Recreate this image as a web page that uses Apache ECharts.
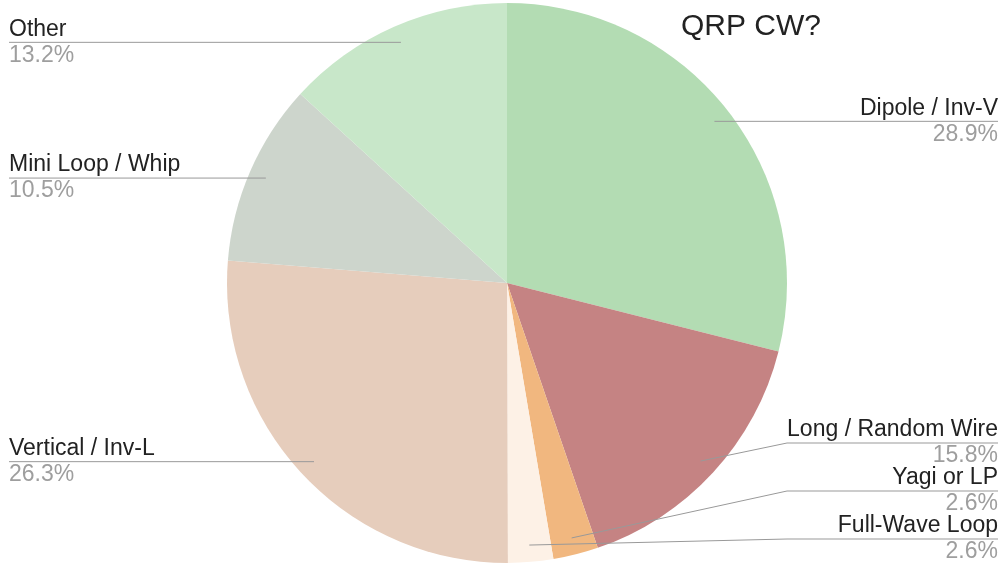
<!DOCTYPE html>
<html><head><meta charset="utf-8">
<script src="https://cdn.jsdelivr.net/npm/echarts@6/dist/echarts.min.js"></script>
<style>html,body{margin:0;padding:0;background:#fff}#c{width:1007px;height:565px}</style>
</head><body><div id="c"></div>
<script>
const categories = ['Dipole / Inv-V', 'Long / Random Wire', 'Yagi or LP', 'Full-Wave Loop', 'Vertical / Inv-L', 'Mini Loop / Whip', 'Other'];
const shares = [28.9, 15.8, 2.6, 2.6, 26.3, 10.5, 13.2];
const colors = ['#b3dcb3', '#c58383', '#f1b77f', '#fdf1e6', '#e6cdbc', '#cdd5cc', '#c8e7c9'];
const titleText = 'QRP CW?';

const W = 1007, H = 565;
const CX = 507, CY = 283, R = 280, R_LABEL = 263;
const FONT = '"Liberation Sans", Arial, sans-serif';
const LINE_H = 26, HALF = LINE_H, STACK = 48;

// Label anchor heights derived from the slice mid-angles, stacked to avoid overlap
const total = shares.reduce((a, b) => a + b, 0);
let acc = 0;
const natural = shares.map(v => {
  const mid = (acc + v / 2) / total * 2 * Math.PI;
  acc += v;
  return {side: Math.sin(mid) >= 0 ? 1 : -1, y: CY - R_LABEL * Math.cos(mid)};
});
const labelY = new Array(shares.length);
[1, -1].forEach(side => {
  const idx = natural.map((d, i) => i).filter(i => natural[i].side === side)
    .sort((a, b) => natural[a].y - natural[b].y);
  let prev = -Infinity;
  idx.forEach(i => { const y = Math.max(natural[i].y, HALF, prev + STACK); labelY[i] = y; prev = y; });
  let next = Infinity;
  for (let k = idx.length - 1; k >= 0; k--) {
    const i = idx[k];
    const y = Math.min(labelY[i], H - HALF, next - STACK);
    labelY[i] = y; next = y;
  }
});

const chart = echarts.init(document.getElementById('c'), null, {renderer: 'canvas'});
const option = {
  animation: false,
  title: {
    text: titleText, left: 681, top: 12, padding: 0,
    textStyle: {fontFamily: FONT, fontSize: 30, fontWeight: 'normal', color: '#222'}
  },
  series: [
    {
      type: 'pie', center: [CX, CY], radius: [0, R], startAngle: 90, clockwise: true,
      silent: true, label: {show: false}, labelLine: {show: false},
      itemStyle: {borderWidth: 0},
      data: categories.map((n, i) => ({name: n, value: shares[i], itemStyle: {color: colors[i]}}))
    },
    {
      type: 'pie', center: [CX, CY], radius: [0, R_LABEL], startAngle: 90, clockwise: true,
      silent: true, z: 3, avoidLabelOverlap: false,
      itemStyle: {color: 'rgba(0,0,0,0)', borderWidth: 0},
      data: categories.map((n, i) => ({name: n, value: shares[i]})),
      label: {
        show: true, position: 'outside', alignTo: 'edge', edgeDistance: 9,
        formatter: p => `{n|${p.name}}\n{v|${p.value}%}`,
        rich: {
          n: {fontSize: 23, lineHeight: LINE_H, color: '#222', fontFamily: FONT},
          v: {fontSize: 23, lineHeight: LINE_H, color: '#9e9e9e', fontFamily: FONT}
        }
      },
      labelLine: {show: true, length: 0, length2: 10, lineStyle: {color: '#999', width: 1}},
      labelLayout: function (params) {
        const pts = params.labelLinePoints;
        const r = params.labelRect;
        const isLeft = r.x + r.width / 2 < CX;
        const y = labelY[params.dataIndex];
        const endX = isLeft ? r.x : r.x + r.width;
        if (!pts) return {y: y};
        const bendX = isLeft ? Math.min(pts[0][0], CX - R) : Math.max(pts[0][0], CX + R);
        return {y: y, labelLinePoints: [pts[0], [bendX, y], [endX, y]]};
      }
    }
  ]
};
chart.setOption(option);
</script>
</body></html>
